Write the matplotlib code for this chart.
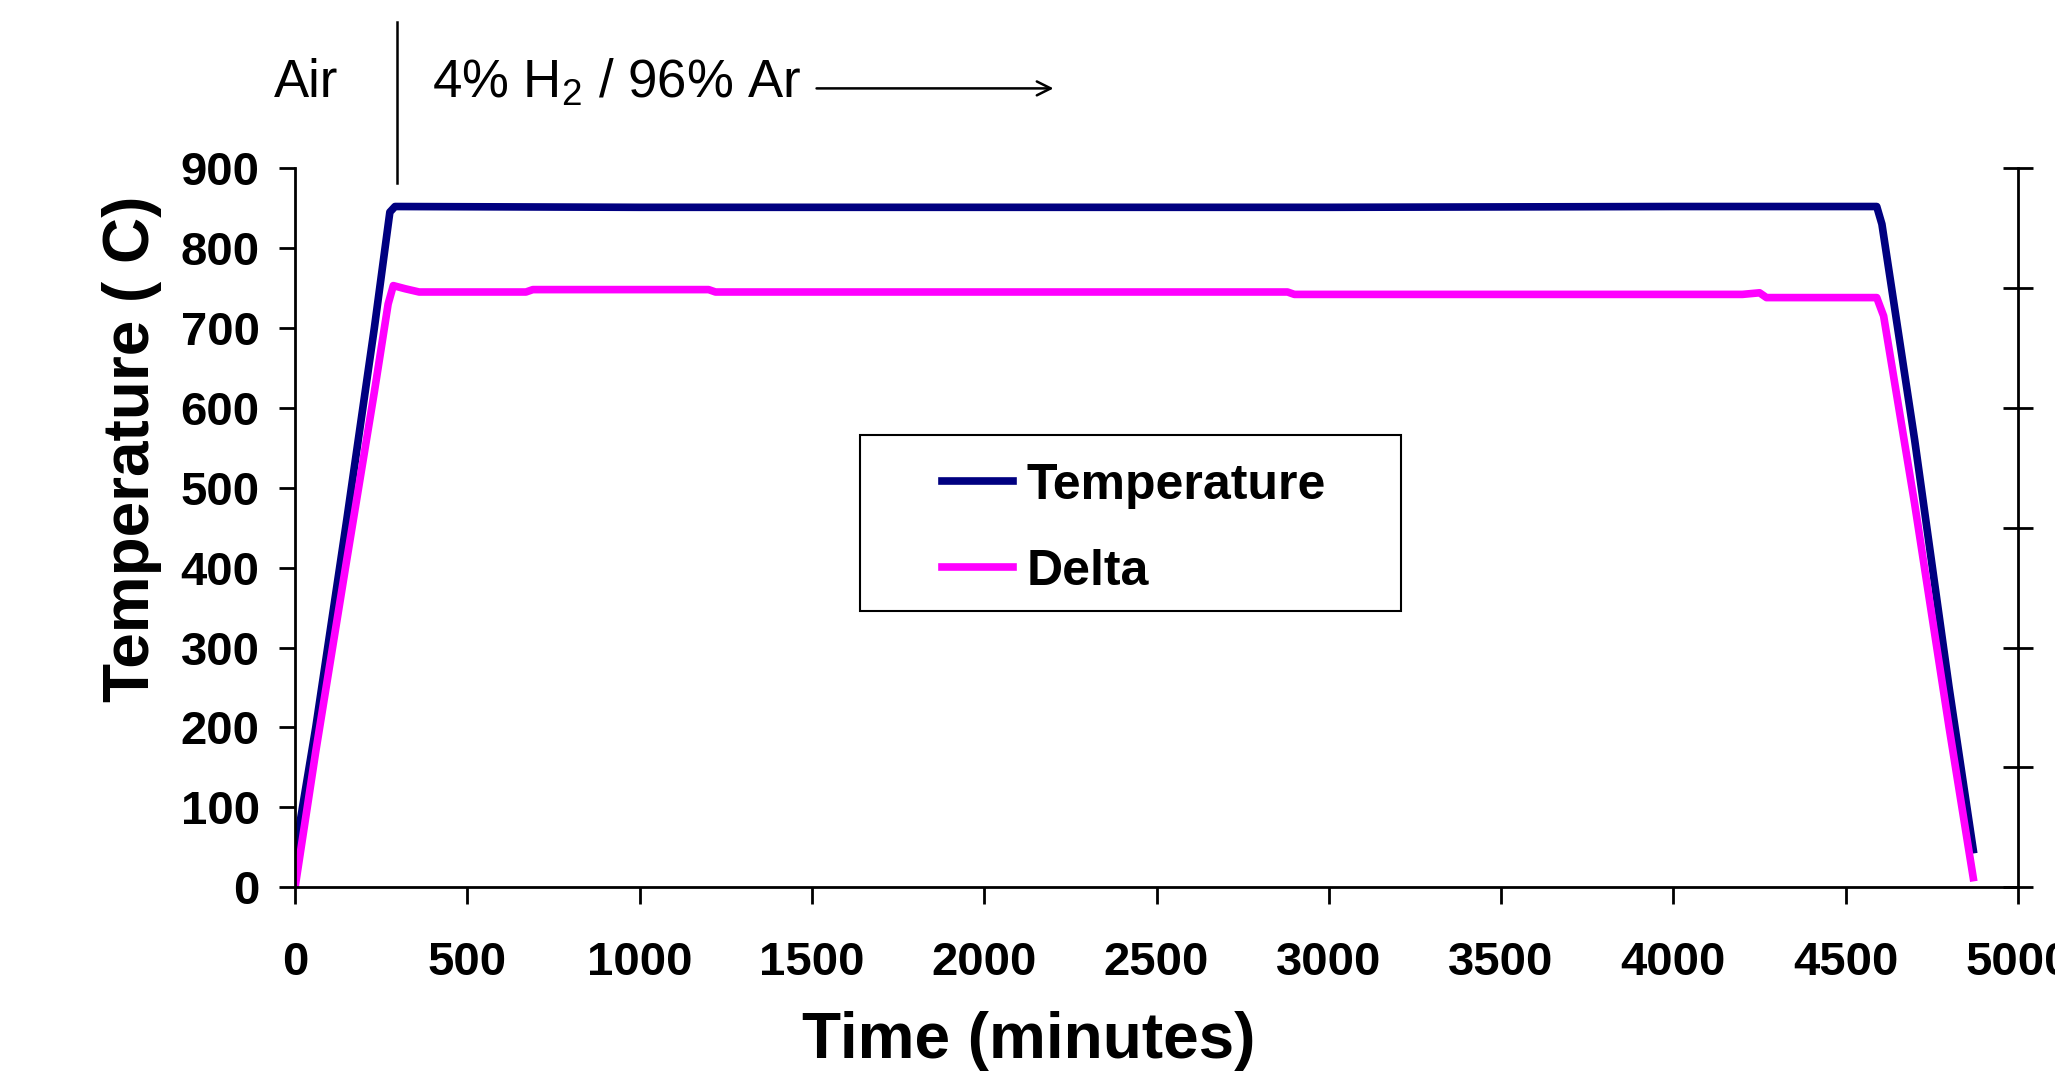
import matplotlib
matplotlib.use("Agg")
import matplotlib.pyplot as plt
from matplotlib.lines import Line2D
from matplotlib.patches import Rectangle, FancyArrowPatch

plt.rcParams['font.family'] = ['Liberation Sans', 'DejaVu Sans']
plt.rcParams['mathtext.default'] = 'regular'

# ---- data ----
temp_time = [0, 10, 60, 150, 230, 275, 290, 1000, 2000, 3000, 4000, 4590, 4605, 4700, 4800, 4870]
temp_vals = [34, 70, 200, 460, 700, 845, 852, 851, 851, 851, 852, 852, 830, 560, 250, 47]

delta_time = [0, 60, 150, 230, 270, 285, 320, 360, 670, 690, 1200, 1220, 2880, 2900,
              4200, 4250, 4270, 4590, 4610, 4700, 4800, 4870]
delta_vals = [0, 170, 410, 620, 730, 753, 749, 745, 745, 748, 748, 745, 745, 742,
              742, 744, 738, 738, 715, 480, 200, 12]

x_ticks = [0, 500, 1000, 1500, 2000, 2500, 3000, 3500, 4000, 4500, 5000]
y_ticks = [0, 100, 200, 300, 400, 500, 600, 700, 800, 900]
right_ticks = [0, 1, 2, 3, 4, 5, 6]

NAVY, MAGENTA = "#000080", "#FF00FF"

fig = plt.figure(figsize=(20.55, 10.78), dpi=100)
ax = fig.add_axes([0.1436, 0.177, 0.8384, 0.667])

ax.plot(temp_time, temp_vals, color=NAVY, lw=5.5, label="Temperature")
ax.plot(delta_time, delta_vals, color=MAGENTA, lw=5.5, label="Delta")

ax.set_xlim(0, 5000)
ax.set_ylim(0, 900)
ax.set_xticks(x_ticks)
ax.set_yticks(y_ticks)
for s in ("top", "right"):
    ax.spines[s].set_visible(False)
for s in ("left", "bottom"):
    ax.spines[s].set_linewidth(2)
ax.tick_params(axis='y', direction='out', length=11.5, width=2, pad=14, labelsize=34)
ax.tick_params(axis='x', direction='out', length=12, width=2, pad=27, labelsize=34)
for lab in ax.get_xticklabels() + ax.get_yticklabels():
    lab.set_fontweight('bold')

ax.set_xlabel("Time (minutes)", fontsize=46, fontweight='bold', va='center')
ax.xaxis.set_label_coords(0.426, -0.214)
ax.set_ylabel("Temperature ( C)", fontsize=46, fontweight='bold', va='center', ha='center')
ax.yaxis.set_label_coords(-0.0945, 0.61)

# secondary axis on the right (ticks only)
ax2 = ax.twinx()
ax2.set_ylim(0, 6)
ax2.set_yticks(right_ticks)
ax2.tick_params(axis='y', direction='inout', length=21, width=2, labelright=False)
for s in ("top", "left", "bottom"):
    ax2.spines[s].set_visible(False)
ax2.spines["right"].set_linewidth(2)

# legend with a square frame
ax.add_patch(Rectangle((0.328, 0.384), 0.314, 0.245, transform=ax.transAxes,
                       facecolor='white', edgecolor='black', lw=1.5, zorder=5))
leg = ax.legend(loc='center', bbox_to_anchor=(0.487, 0.4985), frameon=False,
                prop={'size': 36, 'weight': 'bold'}, handlelength=1.42,
                handletextpad=0.28, labelspacing=0.8)
leg.set_zorder(6)

# gas annotation above the plot
fig.text(0.1333, 0.923, "Air", fontsize=38, va='center', ha='left')
fig.add_artist(Line2D([0.1932, 0.1932], [0.830, 0.980], color='black', lw=1.8))
fig.text(0.2102, 0.923, "4% H$_2$ / 96% Ar", fontsize=38, va='center', ha='left')
fig.add_artist(FancyArrowPatch(
    (0.396, 0.918), (0.514, 0.918), transform=fig.transFigure,
    arrowstyle='->', mutation_scale=25, color='black', lw=1.8))

fig.savefig("out.png", dpi=100)
